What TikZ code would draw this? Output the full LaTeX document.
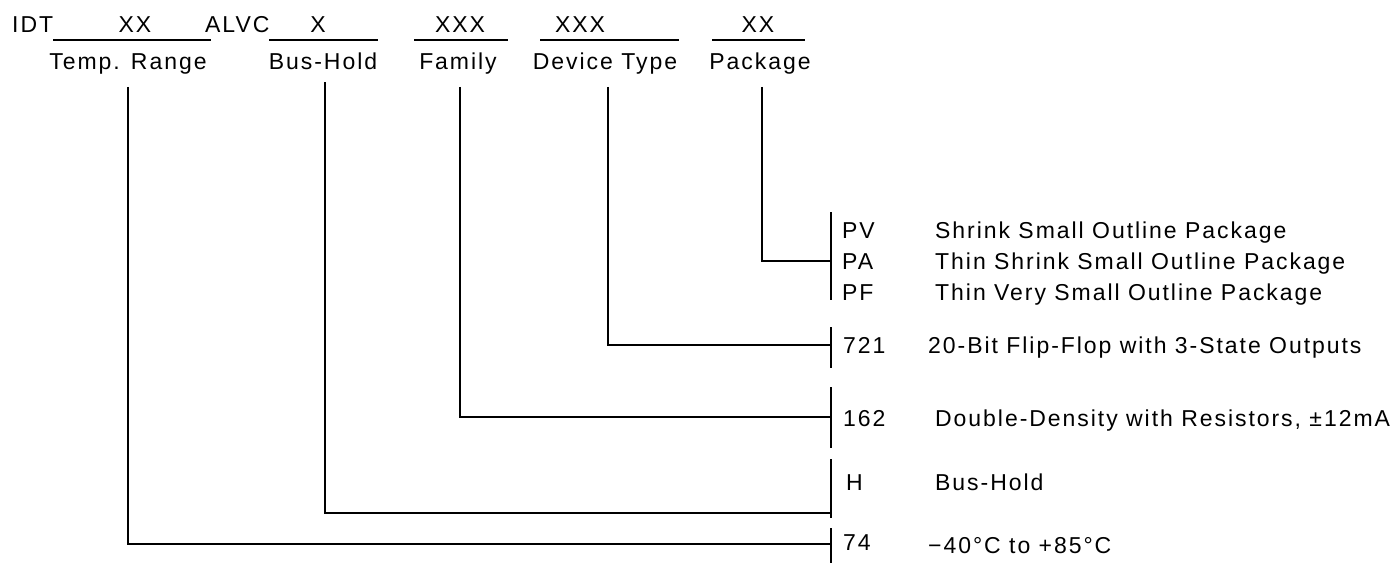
\documentclass[tikz,border=0pt]{standalone}
\usepackage{fontspec}
\setmainfont{Liberation Sans}[LetterSpace=8.5]
\usetikzlibrary{positioning}

\begin{document}
\begin{tikzpicture}[x=1pt, y=-1pt,
    txt/.style={font=\fontsize{23}{27}\selectfont, inner sep=0pt},
    field/.style={txt, anchor=base},
    code/.style={txt, anchor=base west},
    lead/.style={line width=1.3pt},
    bar/.style={line width=1.4pt},
]
\useasboundingbox (0,0) rectangle (1392,563);

% part number
\node[code] (idt) at (12,32) {IDT};
\node[code] (alvc) at (205,32) {ALVC};
\node[field] (xtemp) at (135,32) {XX};
\node[field] (xbus) at (318,32) {X};
\node[field] (xfam) at (460,32) {XXX};
\node[field] (xdev) at (580,32) {XXX};
\node[field] (xpkg) at (758,32) {XX};
\draw[lead] (53,40) -- (211,40);
\draw[lead] (269,40) -- (378,40);
\draw[lead] (414,40) -- (508,40);
\draw[lead] (540,40) -- (679,40);
\draw[lead] (712,40) -- (805,40);

\node[field] (temp) at (128,69) {Temp. Range};
\node[field] (bus) at (323,69) {Bus-Hold};
\node[field] (fam) at (458,69) {Family};
\node[field] (dev) at (605,69) {Device Type};
\node[field] (pkg) at (760,69) {Package};

% option bars
\coordinate (pkgtop) at (831,212); \coordinate (pkgbot) at (831,300);
\coordinate (devtop) at (831,327); \coordinate (devbot) at (831,368);
\coordinate (famtop) at (831,387); \coordinate (fambot) at (831,448);
\coordinate (bustop) at (831,459); \coordinate (busbot) at (831,518);
\coordinate (temptop) at (831,528); \coordinate (tempbot) at (831,563);
\draw[bar] (pkgtop) -- (pkgbot);
\draw[bar] (devtop) -- (devbot);
\draw[bar] (famtop) -- (fambot);
\draw[bar] (bustop) -- (busbot);
\draw[bar] (temptop) -- (tempbot);

\coordinate (jpkg) at (831,261);
\coordinate (jdev) at (831,345);
\coordinate (jfam) at (831,417);
\coordinate (jbus) at (831,513);
\coordinate (jtemp) at (831,544);

\draw[lead] ([xshift=2pt, yshift=-13pt]pkg.south) |- (jpkg);
\draw[lead] ([xshift=3pt, yshift=-13pt]dev.south) |- (jdev);
\draw[lead] ([xshift=2pt, yshift=-13pt]fam.south) |- (jfam);
\draw[lead] ([xshift=2pt, yshift=-13pt]bus.south) |- (jbus);
\draw[lead] ([yshift=-13pt]temp.south) |- (jtemp);

% codes
\node[code] (pv) at (842,238) {PV};
\node[code] (pa) at (842,269) {PA};
\node[code] (pf) at (842,300) {PF};
\node[code] (c721) at (843,353) {721};
\node[code] (c162) at (843,426) {162};
\node[code] (ch) at (846,490) {H};
\node[code] (c74) at (843,550) {74};

\node[code] (dpv) at (935,238) {Shrink Small Outline Package};
\node[code] (dpa) at (935,269) {Thin Shrink Small Outline Package};
\node[code] (dpf) at (935,300) {Thin Very Small Outline Package};
\node[code] (d721) at (928,353) {20-Bit Flip-Flop with 3-State Outputs};
\node[code] (d162) at (935,426) {Double-Density with Resistors, ±12mA};
\node[code] (dh) at (935,490) {Bus-Hold};
\node[code] (d74) at (928,553) {−40°C to +85°C};
\end{tikzpicture}
\end{document}
